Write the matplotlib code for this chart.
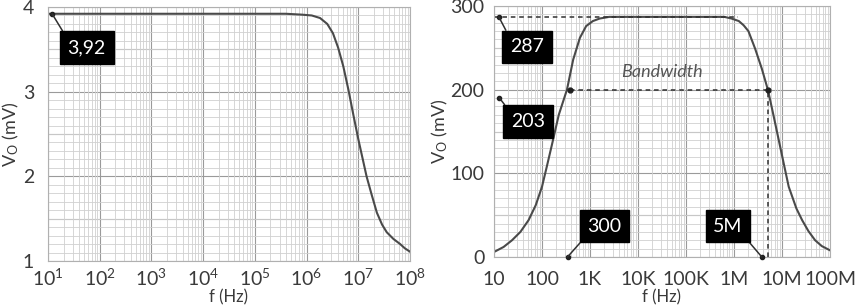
import matplotlib
matplotlib.use("Agg")
import matplotlib.pyplot as plt
import numpy as np
from matplotlib.ticker import FixedLocator, NullFormatter

plt.rcParams['font.family'] = ['Lato', 'DejaVu Sans']
plt.rcParams['mathtext.fontset'] = 'custom'
plt.rcParams['mathtext.rm'] = 'Lato'
plt.rcParams['mathtext.it'] = 'Lato:italic'

# left panel: low-pass response
left_logf = [1.0, 2.0, 3.0, 4.0, 5.0, 5.6, 5.9, 6.1, 6.26, 6.4, 6.51, 6.61, 6.71,
             6.81, 6.91, 7.0, 7.08, 7.16, 7.26, 7.36, 7.46, 7.55, 7.68, 7.81, 7.9, 8.0]
left_v = [3.92, 3.92, 3.92, 3.92, 3.92, 3.92, 3.91, 3.90, 3.87, 3.80, 3.69, 3.52, 3.30,
          3.02, 2.71, 2.44, 2.22, 2.00, 1.78, 1.57, 1.43, 1.34, 1.26, 1.20, 1.15, 1.11]

# right panel: band-pass response
right_logf = [1.0, 1.2, 1.375, 1.55, 1.72, 1.87, 2.0, 2.1, 2.21, 2.35, 2.52, 2.65, 2.79,
              2.92, 3.06, 3.2, 3.4, 4.0, 5.0, 5.8, 5.95, 6.1, 6.2, 6.3, 6.44, 6.58,
              6.71, 6.82, 6.95, 7.05, 7.14, 7.3, 7.42, 7.55, 7.69, 7.83, 8.0]
right_v = [6, 12, 20, 30, 44, 62, 84, 108, 135, 170, 200, 236, 262,
           276, 282, 285, 287, 287, 287, 287, 285, 282, 277, 270, 249, 225,
           199, 170, 135, 108, 84, 58, 44, 31, 20, 13, 8]

left_xticks = [1e1, 1e2, 1e3, 1e4, 1e5, 1e6, 1e7, 1e8]
left_xlabels = [r'$\mathregular{10^{%d}}$' % k for k in range(1, 9)]
right_xlabels = ['10', '100', '1K', '10K', '100K', '1M', '10M', '100M']

txt = '#3a3a3a'
curve = '#4a4a4a'

fig = plt.figure(figsize=(8.64, 3.06), dpi=100)
ax1 = fig.add_axes([48 / 864, 45 / 306, 362 / 864, 254 / 306])
ax2 = fig.add_axes([494 / 864, 49 / 306, 336 / 864, 251 / 306])


def style(ax, ylo, yhi, ymaj, ymin, xpad, ypad):
    ax.set_xscale('log')
    ax.set_xlim(10, 1e8)
    ax.set_ylim(ylo, yhi)
    ax.set_xticks(left_xticks)
    ax.xaxis.set_minor_locator(FixedLocator(
        [m * 10 ** k for k in range(1, 8) for m in range(2, 10)]))
    ax.xaxis.set_minor_formatter(NullFormatter())
    ax.set_yticks(np.arange(ylo, yhi + ymaj / 2, ymaj))
    ax.yaxis.set_minor_locator(FixedLocator(np.arange(ylo, yhi + 1e-9, ymin)))
    ax.grid(which='minor', color='#d0d0d0', lw=0.6)
    ax.grid(which='major', axis='x', color='#9a9a9a', lw=0.8)
    for yy in np.arange(ylo, yhi + 1e-9, (yhi - ylo) / 6):
        ax.axhline(yy, color='#9a9a9a', lw=0.8, zorder=0.5)
    ax.set_axisbelow(True)
    for s in ax.spines.values():
        s.set_color('#b0b0b0')
        s.set_linewidth(0.8)
    ax.tick_params(which='both', length=0, colors=txt, labelsize=14)
    ax.tick_params(axis='x', pad=xpad)
    ax.tick_params(axis='y', pad=ypad)


style(ax1, 1, 4, 1, 0.1, 5, 10)
style(ax2, 0, 300, 100, 10, 10, 7)

ax1.set_xticklabels(left_xlabels)
ax2.set_xticklabels(right_xlabels)

ax1.plot(10 ** np.array(left_logf), left_v, color=curve, lw=1.5)
ax2.plot(10 ** np.array(right_logf), right_v, color=curve, lw=1.5)

ax1.set_ylabel(r'$\mathregular{V_O}$ (mV)', color=txt, fontsize=13)
ax1.yaxis.set_label_coords(-0.075, 0.5)
ax2.set_ylabel(r'$\mathregular{V_O}$ (mV)', color=txt, fontsize=13, labelpad=0)
ax1.set_xlabel('f (Hz)', color=txt, fontsize=12)
ax2.set_xlabel('f (Hz)', color=txt, fontsize=12)
ax1.xaxis.set_label_coords(0.5, -0.112)
ax2.xaxis.set_label_coords(0.5, -0.128)

# dashed guides on right panel
dash = dict(color='#303030', lw=1.1, ls=(0, (3, 2.5)))
ax2.plot([10, 1.2e6], [287, 287], **dash)
ax2.plot([380, 5e6], [200, 200], **dash)
ax2.plot([5e6, 5e6], [0, 200], **dash)
ax2.plot([380, 5e6], [200, 200], 'o', color='#202020', ms=3.5)
ax2.text(10 ** 4.5, 212, 'Bandwidth', style='italic', color='#555555',
         fontsize=13, ha='center', va='bottom')

box = dict(boxstyle='square,pad=0.4', fc='black', ec='black')


def tag(ax, label, pt, at, rel):
    ax.plot(*pt, 'o', color='#202020', ms=3, clip_on=False, zorder=5)
    ax.annotate(label, xy=pt, xytext=at, color='white', fontsize=14,
                ha='center', va='center', bbox=box, zorder=6,
                arrowprops=dict(arrowstyle='-', color='#303030', lw=1.1,
                                relpos=rel, shrinkA=0, shrinkB=0))


tag(ax1, '3,92', (12, 3.92), (56, 3.52), (0, 1))
tag(ax2, '287', (12.6, 287), (49, 251), (0, 1))
tag(ax2, '203', (13, 190), (51, 162), (0, 1))
tag(ax2, '300', (340, 0), (2000, 37), (0, 0))
tag(ax2, '5M', (3.8e6, 0), (7.5e5, 37), (1, 0))

fig.savefig('out.png', dpi=100)
